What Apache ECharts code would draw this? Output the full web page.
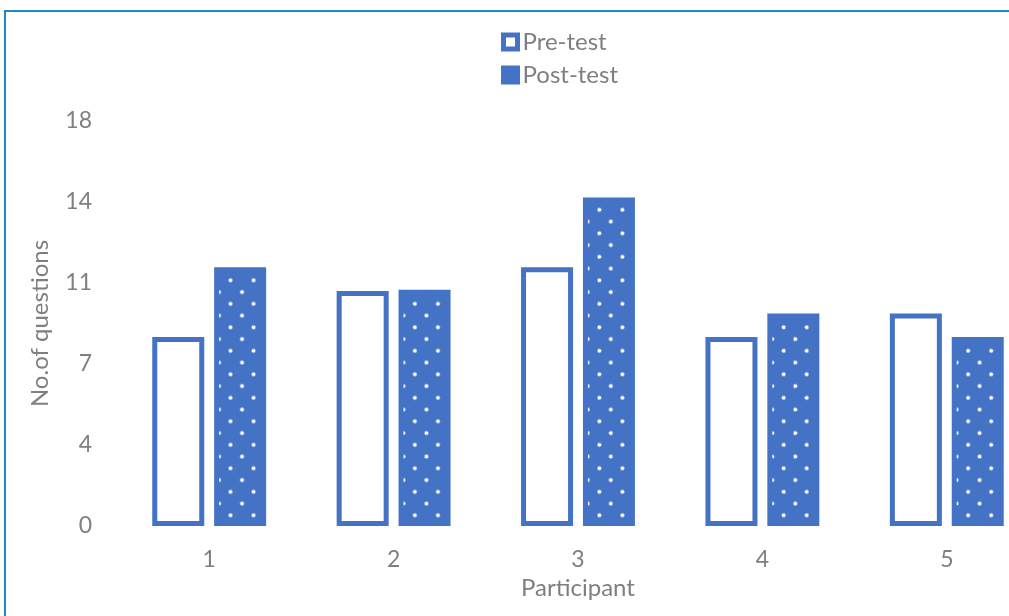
<!DOCTYPE html>
<html>
<head>
<meta charset="utf-8">
<script src="https://cdn.jsdelivr.net/npm/echarts@6/dist/echarts.min.js"></script>
<style>
  html, body { margin: 0; padding: 0; background: #fff; }
  #chart { width: 1009px; height: 616px; }
</style>
</head>
<body>
<div id="chart"></div>
<script>
// values
const participants = ['1', '2', '3', '4', '5'];
const preTest = [8.4, 10.45, 11.5, 8.4, 9.45];
const postTest = [11.5, 10.5, 14.6, 9.45, 8.4];

const blue = '#4472c4';
const grey = '#7f7f7f';
const font = 'Lato, "Open Sans", sans-serif';

// dotted fill for the post-test bars (tile drawn at 2x, scaled down)
function dotTile() {
  const c = document.createElement('canvas');
  c.width = 46;
  c.height = 47;
  const ctx = c.getContext('2d');
  ctx.fillStyle = blue;
  ctx.fillRect(0, 0, 46, 47);
  const dots = [[0, 43.6], [46, 43.6], [0, -3.4], [46, -3.4], [23, 20.1]];
  dots.forEach(([x, y]) => {
    ctx.fillStyle = 'rgba(255,255,255,0.35)';
    ctx.beginPath();
    ctx.arc(x, y, 5, 0, Math.PI * 2);
    ctx.fill();
    ctx.fillStyle = '#fff';
    ctx.beginPath();
    ctx.arc(x, y, 3.2, 0, Math.PI * 2);
    ctx.fill();
  });
  return c;
}

const chart = echarts.init(document.getElementById('chart'));

const option = {
  animation: false,
  backgroundColor: '#fff',
  graphic: [{
    type: 'rect',
    shape: { x: 5, y: 11, width: 1100, height: 700 },
    style: { fill: 'none', stroke: '#1e8bc3', lineWidth: 2 },
    silent: true
  }],
  legend: {
    orient: 'vertical',
    left: 496,
    top: 25,
    icon: 'rect',
    itemWidth: 14,
    itemHeight: 14,
    itemGap: 9,
    textStyle: { color: grey, fontSize: 24, fontFamily: font },
    data: [
      { name: 'Pre-test', itemStyle: { color: '#fff', borderColor: blue, borderWidth: 5 } },
      { name: 'Post-test', itemStyle: { color: blue, borderColor: blue, borderWidth: 5 } }
    ]
  },
  grid: {
    left: 117,
    top: 121,
    width: 922,
    height: 405,
    outerBoundsMode: 'none'
  },
  xAxis: {
    type: 'category',
    data: participants,
    name: 'Participant',
    nameLocation: 'middle',
    nameGap: 49,
    nameTextStyle: { color: grey, fontSize: 24, fontFamily: font },
    axisLine: { show: false },
    axisTick: { show: false },
    axisLabel: { color: grey, fontSize: 23, fontFamily: font, margin: 22 }
  },
  yAxis: {
    type: 'value',
    min: 0,
    max: 18,
    interval: 3.6,
    name: 'No.of questions',
    nameLocation: 'middle',
    nameGap: 65,
    nameTextStyle: { color: grey, fontSize: 24, fontFamily: font },
    splitLine: { show: false },
    axisLine: { show: false },
    axisTick: { show: false },
    axisLabel: {
      color: grey, fontSize: 23, fontFamily: font, margin: 25,
      formatter: v => String(Math.round(v))
    }
  },
  series: [{
    name: 'Pre-test',
    type: 'bar',
    data: preTest,
    barWidth: 52,
    barGap: '19%',
    itemStyle: { color: '#fff', borderColor: blue, borderWidth: 5 }
  }, {
    name: 'Post-test',
    type: 'bar',
    data: postTest,
    barWidth: 52,
    itemStyle: {
      color: { image: dotTile(), repeat: 'repeat', scaleX: 23.05 / 46, scaleY: 0.5 },
      borderColor: blue,
      borderWidth: 5
    }
  }]
};

chart.setOption(option);
</script>
</body>
</html>
